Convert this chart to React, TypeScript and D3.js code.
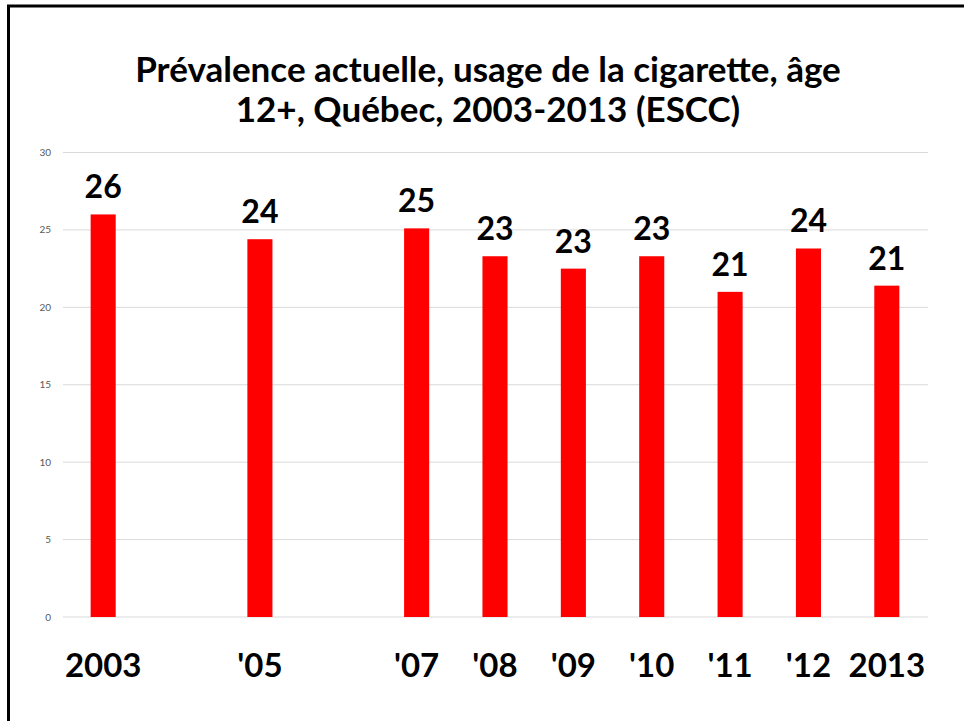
import React from "react";
import * as d3 from "d3";

const categories = ["2003", "2004", "'05", "2006", "'07", "'08", "'09", "'10", "'11", "'12", "2013"];
const values: (number | null)[] = [26.0, null, 24.4, null, 25.1, 23.3, 22.5, 23.3, 21.0, 23.8, 21.4];
const valueLabels = ["26", "", "24", "", "25", "23", "23", "23", "21", "24", "21"];
const axisLabels = ["2003", "", "'05", "", "'07", "'08", "'09", "'10", "'11", "'12", "2013"];
const yTicks = [0, 5, 10, 15, 20, 25, 30];
const titleLines = ["Prévalence actuelle, usage de la cigarette, âge", "12+, Québec, 2003-2013 (ESCC)"];

const W = 964;
const H = 721;
const FONT = "Lato, 'Open Sans', sans-serif";

export default function App() {
  const x = d3.scaleBand<string>().domain(categories).range([64, 926]).paddingInner(0.68).paddingOuter(0.34);
  const y = d3.scaleLinear().domain([0, 30]).range([617, 152.5]);

  return (
    <svg width={W} height={H} style={{ position: "absolute", left: 0, top: 0, background: "#fff" }}>
      <rect x={0} y={0} width={W} height={H} fill="#fff" />
      <rect x={8.5} y={6} width={W + 20} height={H + 20} fill="none" stroke="#000" strokeWidth={3} />
      {titleLines.map((t, i) => (
        <text key={i} x={488} y={82 + i * 40} textAnchor="middle" fontFamily={FONT} fontWeight={700} fontSize={35} fill="#000">
          {t}
        </text>
      ))}
      {yTicks.map((t) => (
        <g key={t}>
          <line x1={63} x2={928} y1={y(t)} y2={y(t)} stroke="#d9d9d9" strokeWidth={1} />
          <text x={51} y={y(t) + 3.5} textAnchor="end" fontFamily={FONT} fontSize={10} fill="#595959">
            {t}
          </text>
        </g>
      ))}
      {categories.map((c, i) => {
        const v = values[i];
        if (v == null) return null;
        const bx = x(c)!;
        return (
          <g key={c}>
            <rect x={bx} y={y(v)} width={x.bandwidth()} height={y(0) - y(v)} fill="#ff0000" />
            <text x={bx + x.bandwidth() / 2} y={y(v) - 16} textAnchor="middle" fontFamily={FONT} fontWeight={700} fontSize={32} fill="#000">
              {valueLabels[i]}
            </text>
            <text x={bx + x.bandwidth() / 2} y={677} textAnchor="middle" fontFamily={FONT} fontWeight={700} fontSize={33} fill="#000">
              {axisLabels[i]}
            </text>
          </g>
        );
      })}
    </svg>
  );
}
